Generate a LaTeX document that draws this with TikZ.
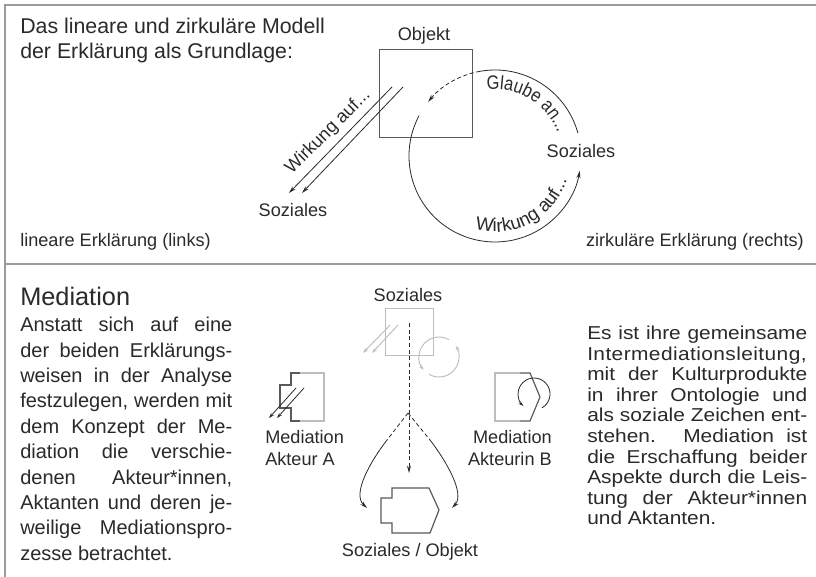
\documentclass[tikz,border=0pt]{standalone}
\usepackage{fontspec}
\setmainfont{Liberation Sans}
\newfontfamily\widefont[FakeStretch=1.12]{Liberation Sans}
\newfontfamily\narrowfont[FakeStretch=0.85]{Liberation Sans}
\usetikzlibrary{arrows.meta,calc,decorations.text}

\definecolor{framegray}{HTML}{9C9C9C}
\definecolor{ink}{HTML}{2A2A2A}
\definecolor{faint}{HTML}{BDBDBD}
\definecolor{linegray}{HTML}{5A5A5A}

\newcommand\arcfontA{\narrowfont\fontsize{14.5}{16}\selectfont}
\newcommand\arcfontB{\fontsize{14}{16}\selectfont}

\tikzset{
  frame/.style={draw=framegray, line width=1.5pt},
  head/.style={font=\fontsize{16}{19}\selectfont, inner sep=0pt, text=ink},
  lbl/.style={font=\fontsize{13.6}{16}\selectfont, inner sep=0pt, text=ink},
  bodyL/.style={font=\fontsize{15}{18}\selectfont, inner sep=0pt, text=ink, anchor=base west},
  bodyR/.style={font=\widefont\fontsize{14}{16}\selectfont, inner sep=0pt, text=ink, anchor=base west},
  thin/.style={draw=ink, line width=0.6pt},
  arr/.style={-{Stealth[length=5.5pt,width=3pt]}},
  arrsmall/.style={-{Stealth[length=4pt,width=2.6pt]}},
  faintln/.style={draw=faint, line width=0.7pt},
  dashline/.style={dash pattern=on 3pt off 2pt},
  outline/.style={draw=linegray, line width=0.9pt},
  lightbox/.style={draw=faint, line width=0.8pt},
}

\begin{document}
\begin{tikzpicture}[x=0.75pt,y=-0.75pt]
\useasboundingbox (0,0) rectangle (816,577);
\fill[white] (0,0) rectangle (816,577);

% outer frame and divider
\draw[frame] (5,577) -- (5,5) -- (816,5);
\draw[frame] (5,264) -- (816,264);

% ---------- upper panel: linear and circular explanation ----------
\node[head, anchor=base west] (h1) at (20,34) {Das lineare und zirkuläre Modell};
\node[head, anchor=base west] (h2) at (20,59) {der Erklärung als Grundlage:};

\node[lbl, anchor=base] (obj) at (424,41) {Objekt};
\node[draw=linegray, line width=0.7pt, minimum width=69.75pt, minimum height=66pt, inner sep=0pt, anchor=north west] (box) at (379,49) {};

% linear model
\coordinate (la1) at (392,87);
\coordinate (lb1) at (289,193);
\coordinate (la2) at (403,87);
\coordinate (lb2) at (302,193);
\draw[thin,arr] (la1) -- (lb1);
\draw[thin,arr] (la2) -- (lb2);
\node[lbl, rotate=45] (wlin) at (328,132) {Wirkung auf...};
\node[lbl, anchor=base] (sozL) at (293,216) {Soziales};

% circular model
\coordinate (cc) at (495,156);
\draw[thin] ($(cc)+(15.5:64.5pt)$) arc[start angle=15.5, end angle=100, radius=64.5pt];
\draw[thin,dashline,arr] ($(cc)+(100:64.5pt)$) arc[start angle=100, end angle=141, radius=64.5pt];
\draw[thin,arr] ($(cc)+(152:64.5pt)$) arc[start angle=152, end angle=350, radius=64.5pt];
\path[decorate, decoration={text along path, text={|\arcfontA\color{ink}|Glaube an...}, text align={left indent=0pt}}]
  ($(cc)+(97:50pt)$) arc[start angle=97, end angle=-10, radius=50pt];
\path[decorate, decoration={text along path, text={|\arcfontB\color{ink}|Wirkung auf...}, text align={left indent=0pt}}]
  ($(cc)+(255:57pt)$) arc[start angle=255, end angle=370, radius=57pt];
\node[lbl, anchor=base] (sozR) at (581,158) {Soziales};

\node[lbl, anchor=base west] (linL) at (20,246) {lineare Erklärung (links)};
\node[lbl, anchor=base east] (zirR) at (804,246) {zirkuläre Erklärung (rechts)};

% ---------- lower panel: mediation ----------
\node[font=\fontsize{19}{22}\selectfont, inner sep=0pt, text=ink, anchor=base west] (med) at (20,305) {Mediation};

\foreach [count=\i] \t in {Anstatt sich auf eine, der beiden Erklärungs-, weisen in der Analyse,
  {festzulegen, werden mit}, dem Konzept der Me-, diation die verschie-, {denen Akteur*innen,},
  Aktanten und deren je-, weilige Mediationspro-}
  \node[bodyL] (pl\i) at (20,{331.7+(\i-1)*25.4}) {\makebox[159pt][s]{\t}};
\node[bodyL] (pl10) at (20,{331.7+9*25.4}) {zesse betrachtet.};

\foreach [count=\i] \t in {Es ist ihre gemeinsame, {\addfontfeature{LetterSpace=2.2}Intermediationsleitung,},
  mit der Kulturprodukte, in ihrer Ontologie und, als soziale Zeichen ent-, stehen. Mediation ist,
  die Erschaffung beider, Aspekte durch die Leis-, tung der Akteur*innen}
  \node[bodyR] (pr\i) at (587,{339.5+(\i-1)*20.6}) {\makebox[165pt][s]{\t}};
\node[bodyR] (pr10) at (587,{339.5+9*20.6}) {und Aktanten.};

% society icon (faint): object box with linear and circular arrows
\node[lbl, anchor=base] (sozM) at (408,301) {Soziales};
\node[lightbox, minimum width=36pt, minimum height=35.25pt, inner sep=0pt, anchor=north west] (sbox) at (385,308) {};
\coordinate (sa1) at (390,325);
\coordinate (sb1) at (363,353);
\coordinate (sa2) at (398,325);
\coordinate (sb2) at (372,353);
\draw[faintln,arrsmall] (sa1) -- (sb1);
\draw[faintln,arrsmall] (sa2) -- (sb2);
\coordinate (sc) at (439,357);
\draw[faintln,arrsmall] ($(sc)+(240:15pt)$) arc[start angle=240, end angle=394, radius=15pt];
\draw[faintln,arrsmall] ($(sc)+(60:15pt)$) arc[start angle=60, end angle=220, radius=15pt];

% mediation flow
\coordinate (vtop) at (409,323);
\coordinate (vend) at (409,473);
\coordinate (br) at (408,413);
\coordinate (bl1) at (387,440);
\coordinate (bl2) at (367,508);
\coordinate (brr1) at (430,440);
\coordinate (brr2) at (452,508);
\draw[thin,dashline,arr] (vtop) -- (vend);
\draw[thin,dashline] (br) -- (bl1);
\draw[thin,dashline] (br) -- (brr1);
\draw[thin,arr] (bl1) .. controls (370,462) and (352,494) .. (bl2);
\draw[thin,arr] (brr1) .. controls (447,462) and (465,494) .. (brr2);

% resulting social object
\draw[outline] (381,498) -- (392,498) -- (392,488) -- (429,488) -- (439,510) -- (430,533)
  -- (392,533) -- (392,523) -- (381,523) -- cycle;
\node[lbl, anchor=base] (sozO) at (410,556) {Soziales / Objekt};

% actor A: linear mediation
\draw[lightbox] (300,373) -- (324,373) -- (324,421) -- (300,421);
\draw[outline] (300,373) -- (291,373) -- (291,385) -- (280,385) -- (280,408) -- (291,408) -- (291,421) -- (300,421);
\coordinate (aa1) at (296,388);
\coordinate (ab1) at (269,418);
\coordinate (aa2) at (304,388);
\coordinate (ab2) at (277,418);
\draw[thin,arrsmall] (aa1) -- (ab1);
\draw[thin,arrsmall] (aa2) -- (ab2);
\node[lbl, anchor=base west] (medA1) at (265,443) {Mediation};
\node[lbl, anchor=base west] (medA2) at (265,465) {Akteur A};

% actor B: circular mediation
\draw[lightbox] (520,373) -- (495,373) -- (495,421) -- (520,421);
\draw[outline] (520,373) -- (530,373) -- (540,397) -- (530,421) -- (520,421);
\coordinate (bc) at (534,394);
\draw[thin,arrsmall] ($(bc)+(-60:12pt)$) arc[start angle=-60, end angle=228, radius=12pt];
\node[lbl, anchor=base east] (medB1) at (552,443) {Mediation};
\node[lbl, anchor=base east] (medB2) at (552,465) {Akteurin B};
\end{tikzpicture}
\end{document}
